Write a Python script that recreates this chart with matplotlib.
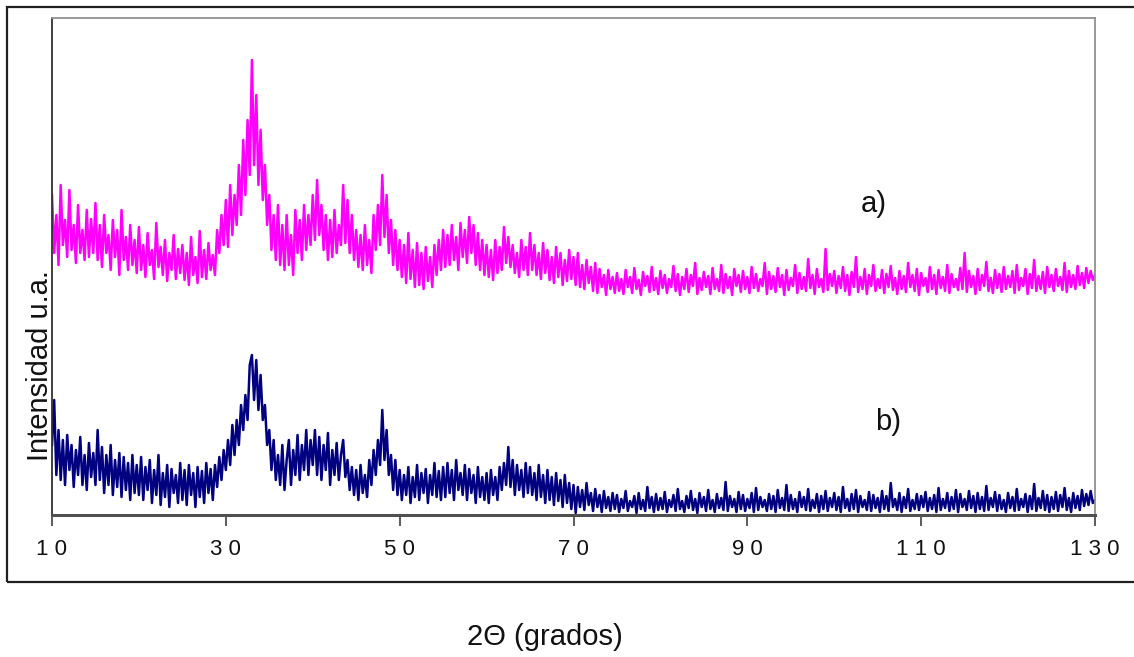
import numpy as np
import matplotlib
matplotlib.use("Agg")
import matplotlib.pyplot as plt
from matplotlib.patches import Rectangle

# 2-theta grid (degrees), 0.25 deg step
theta = np.arange(10.0, 130.0 + 0.001, 0.25)

# Series a) intensity (arbitrary units); 20 values per 5 deg
serie_a = [
    320, 262, 300, 250, 330, 270, 295, 258, 325, 265, 290, 252, 310, 262, 285, 255, 305, 258, 296, 262,
    312, 255, 290, 248, 300, 262, 280, 245, 295, 258, 285, 240, 305, 255, 278, 245, 290, 250, 275, 242,
    288, 245, 270, 238, 282, 250, 265, 236, 292, 248, 268, 240, 275, 234, 262, 245, 280, 236, 266, 242,
    270, 235, 262, 230, 278, 240, 258, 232, 284, 238, 265, 236, 272, 245, 260, 240, 285, 262, 300, 270,
    315, 268, 330, 280, 320, 290, 350, 300, 375, 320, 395, 340, 455, 350, 420, 330, 385, 315, 350, 290,
    320, 265, 300, 255, 310, 250, 290, 245, 300, 250, 280, 240, 305, 262, 295, 255, 310, 265, 300, 270,
    320, 275, 335, 280, 310, 265, 300, 255, 295, 258, 305, 262, 290, 270, 330, 272, 315, 262, 300, 255,
    285, 248, 280, 245, 290, 250, 275, 242, 300, 265, 310, 270, 340, 278, 320, 262, 295, 250, 285, 245,
    275, 238, 270, 232, 282, 236, 265, 228, 272, 230, 262, 226, 268, 234, 258, 228, 270, 240, 275, 245,
    285, 248, 280, 250, 290, 255, 278, 245, 292, 258, 285, 252, 298, 262, 290, 250, 282, 245, 275, 240,
    270, 238, 265, 235, 275, 242, 268, 245, 288, 252, 278, 248, 270, 242, 262, 238, 275, 245, 268, 240,
    282, 245, 270, 240, 262, 236, 272, 242, 265, 235, 258, 232, 268, 238, 262, 230, 255, 234, 265, 236,
    258, 230, 262, 228, 250, 226, 255, 232, 248, 224, 252, 222, 246, 228, 240, 220, 245, 226, 238, 222,
    242, 224, 236, 221, 245, 228, 238, 222, 247, 226, 235, 220, 243, 229, 239, 223, 248, 225, 237, 221,
    244, 227, 240, 222, 236, 228, 249, 224, 241, 220, 238, 226, 246, 223, 240, 229, 252, 221, 237, 225,
    243, 228, 239, 221, 247, 226, 236, 224, 250, 222, 241, 227, 238, 220, 246, 229, 240, 223, 244, 226,
    238, 222, 248, 227, 241, 224, 236, 229, 252, 221, 243, 226, 239, 223, 247, 228, 240, 220, 245, 225,
    237, 229, 250, 222, 242, 226, 238, 224, 256, 227, 240, 221, 246, 228, 236, 223, 266, 225, 241, 229,
    244, 222, 239, 227, 248, 224, 240, 220, 243, 228, 258, 223, 238, 226, 246, 221, 240, 229, 250, 224,
    236, 227, 245, 222, 241, 228, 249, 225, 237, 221, 244, 226, 239, 223, 252, 228, 240, 224, 246, 220,
    242, 229, 237, 223, 248, 226, 240, 221, 245, 227, 238, 224, 250, 222, 241, 228, 236, 225, 247, 226,
    262, 223, 244, 228, 239, 221, 246, 225, 240, 229, 253, 224, 237, 222, 245, 227, 241, 223, 248, 226,
    239, 228, 244, 222, 250, 225, 237, 229, 246, 221, 241, 227, 255, 224, 239, 226, 243, 222, 248, 228,
    240, 224, 246, 229, 238, 225, 252, 223, 244, 228, 240, 226, 249, 230, 242, 227, 247, 232, 244, 235,
    240,
]

# Series b) intensity (arbitrary units); 20 values per 5 deg
serie_b = [
    70, 115, 40, 85, 35, 75, 30, 80, 45, 70, 28, 65, 40, 78, 30, 60, 25, 72, 38, 62,
    30, 85, 35, 68, 22, 60, 30, 70, 20, 55, 28, 62, 18, 58, 25, 52, 15, 60, 22, 50,
    20, 58, 15, 48, 25, 55, 12, 45, 20, 60, 10, 42, 18, 50, 8, 46, 22, 40, 12, 52,
    15, 45, 10, 50, 20, 42, 8, 48, 18, 44, 12, 52, 22, 46, 15, 50, 28, 58, 35, 65,
    45, 75, 50, 90, 60, 95, 70, 110, 85, 120, 95, 150, 160, 115, 155, 105, 140, 95, 110, 70,
    85, 45, 75, 35, 60, 30, 70, 25, 55, 75, 30, 65, 40, 80, 35, 70, 45, 85, 40, 75,
    50, 85, 40, 78, 35, 70, 45, 82, 30, 65, 40, 72, 35, 60, 75, 38, 55, 25, 48, 20,
    45, 15, 50, 22, 40, 18, 55, 30, 65, 40, 75, 50, 105, 55, 85, 40, 60, 25, 55, 20,
    45, 15, 40, 20, 48, 12, 38, 18, 50, 15, 42, 22, 46, 12, 40, 20, 52, 18, 44, 15,
    48, 18, 52, 22, 45, 15, 55, 25, 42, 20, 50, 15, 46, 22, 40, 12, 48, 18, 38, 15,
    42, 12, 45, 20, 38, 15, 48, 25, 52, 30, 68, 28, 55, 20, 50, 25, 45, 18, 52, 22,
    48, 20, 42, 15, 50, 18, 40, 12, 45, 15, 38, 10, 42, 14, 35, 8, 40, 12, 32, 6,
    30, 2, 28, 8, 25, 5, 32, 10, 22, 4, 26, 8, 20, 3, 24, 7, 18, 4, 22, 6,
    20, 3, 16, 7, 24, 4, 14, 8, 19, 2, 22, 6, 15, 4, 28, 7, 18, 3, 21, 5,
    17, 6, 23, 3, 15, 8, 20, 4, 26, 6, 14, 3, 19, 7, 24, 5, 16, 2, 22, 8,
    18, 4, 25, 6, 15, 3, 21, 7, 17, 5, 33, 4, 19, 8, 16, 3, 23, 6, 20, 4,
    16, 7, 22, 3, 27, 5, 18, 8, 15, 4, 21, 6, 19, 3, 25, 7, 17, 5, 30, 4,
    20, 6, 16, 3, 23, 8, 18, 5, 26, 4, 15, 7, 21, 3, 19, 6, 24, 4, 17, 8,
    22, 5, 18, 3, 28, 7, 16, 4, 21, 6, 25, 3, 19, 8, 15, 5, 23, 4, 20, 7,
    17, 3, 24, 6, 19, 4, 32, 8, 16, 5, 22, 3, 18, 7, 26, 4, 15, 6, 21, 5,
    19, 8, 23, 4, 17, 6, 20, 3, 27, 5, 16, 7, 22, 4, 18, 6, 25, 3, 21, 8,
    16, 5, 24, 7, 19, 3, 22, 6, 18, 4, 29, 5, 17, 8, 23, 4, 20, 6, 15, 3,
    22, 7, 18, 4, 26, 5, 16, 8, 21, 3, 19, 6, 31, 4, 17, 7, 24, 5, 20, 3,
    18, 6, 23, 4, 20, 8, 27, 5, 17, 3, 22, 7, 19, 5, 25, 9, 21, 10, 24, 12,
    15,
]

xticks = [10, 30, 50, 70, 90, 110, 130]
xtick_labels = ["1 0", "3 0", "5 0", "7 0", "9 0", "1 1 0", "1 3 0"]
curve_labels = ["a)", "b)"]

plt.rcParams['font.family'] = ['Liberation Sans', 'DejaVu Sans']

W, H = 1134, 657
fig = plt.figure(figsize=(W / 100, H / 100), dpi=100)

# outer chart frame
fig.patches.append(Rectangle((7 / W, 1 - 582 / H), 1.2, (582 - 7) / H,
                             transform=fig.transFigure, fill=False,
                             edgecolor='#202020', linewidth=1.6))

ax = fig.add_axes([52 / W, 1 - 515 / H, (1095 - 52) / W, (515 - 18) / H])
ax.plot(theta, serie_a, color='#FF00FF', linewidth=1.8)
ax.plot(theta, serie_b, color='#000080', linewidth=1.8)

ax.set_xlim(10, 130)
ax.set_ylim(0, 497)
ax.set_yticks([])
ax.set_xticks(xticks)
ax.set_xticklabels(xtick_labels, fontsize=16)
ax.tick_params(axis='x', direction='out', length=8, width=1.2,
               color='#404040', pad=9, labelcolor='#111111')

ax.spines['left'].set_color('#303030')
ax.spines['left'].set_linewidth(1.3)
ax.spines['bottom'].set_color('#505050')
ax.spines['bottom'].set_linewidth(2.2)
ax.spines['top'].set_color('#909090')
ax.spines['right'].set_color('#909090')
ax.spines['top'].set_linewidth(1.3)
ax.spines['right'].set_linewidth(1.3)

fig.text(40 / W, 1 - 366 / H, "Intensidad u.a.", rotation=90, fontsize=21,
         ha='center', va='center', color='#111111')
fig.text(545 / W, 1 - 637 / H, "2Θ (grados)", fontsize=21,
         ha='center', va='center', color='#111111')
ax.text(104.5, 311, curve_labels[0], fontsize=21, ha='center', va='center',
        color='#111111')
ax.text(106.2, 93, curve_labels[1], fontsize=21, ha='center', va='center',
        color='#111111')

fig.savefig("out.png", dpi=100)
